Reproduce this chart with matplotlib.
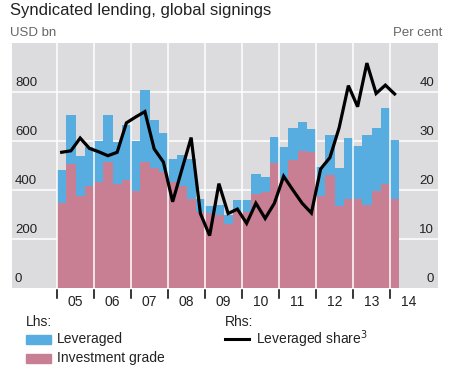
import numpy as np
import matplotlib
matplotlib.use('Agg')
import matplotlib.pyplot as plt
from matplotlib.patches import Rectangle
from matplotlib.lines import Line2D

plt.rcParams['font.family'] = ['Liberation Sans', 'DejaVu Sans']

# quarterly data, 2005 Q1 .. 2014 Q1
years = ['05', '06', '07', '08', '09', '10', '11', '12', '13', '14']
total_usd = [480, 705, 538, 575, 598, 707, 595, 664, 601, 808,
             686, 633, 528, 542, 528, 364, 336, 338, 300, 358,
             358, 464, 453, 618, 575, 654, 677, 650, 494, 623,
             491, 613, 581, 623, 655, 735, 603]
inv_grade = [347, 508, 375, 417, 433, 516, 426, 440, 395, 516,
             491, 473, 432, 416, 364, 310, 306, 300, 261, 315,
             311, 385, 392, 511, 450, 524, 561, 555, 375, 460,
             333, 362, 362, 338, 395, 426, 362]
lev_share = [27.7, 28.0, 30.6, 28.5, 27.8, 27.0, 27.7, 33.7, 34.9, 36.0,
             28.4, 25.7, 17.6, 24.2, 30.7, 15.2, 10.7, 21.3, 15.2, 16.1,
             13.2, 17.3, 14.2, 17.3, 22.8, 20.0, 17.3, 15.3, 24.3, 26.6,
             32.7, 41.3, 37.0, 45.9, 39.7, 41.4, 39.6]
lhs_ticks = [0, 200, 400, 600, 800]
rhs_ticks = [0, 10, 20, 30, 40]

blue = '#58ade0'
pink = '#c97f93'
bg = '#dcdcde'
txt = '#222222'

leveraged = np.array(total_usd) - np.array(inv_grade)
x = np.arange(len(total_usd)) + 0.5

W, H = 460, 370
fig = plt.figure(figsize=(W / 100, H / 100), dpi=100)
ax = fig.add_axes([12 / W, 82 / H, 426 / W, 245 / H])
ax.set_facecolor(bg)
for s in ax.spines.values():
    s.set_visible(False)

ax.bar(x, inv_grade, width=1.0, color=pink, linewidth=0, zorder=2)
ax.bar(x, leveraged, width=1.0, bottom=inv_grade, color=blue, linewidth=0, zorder=2)
ax.set_xlim(-4.87, 41.19)
ax.set_ylim(0, 1000)

for v in lhs_ticks[1:]:
    ax.axhline(v, color='white', lw=1.1, zorder=1)
for k in range(len(years)):
    ax.axvline(4 * k, color='white', lw=1.1, zorder=3)

ax.set_xticks([])
ax.set_yticks([])

# left axis labels inside the plot, sitting above their grid lines
for v in lhs_ticks:
    ax.annotate(str(v), xy=(0.007, v), xycoords=('axes fraction', 'data'),
                xytext=(0, 6.5), textcoords='offset points',
                ha='left', va='center', fontsize=9.5, color=txt)

ax2 = ax.twinx()
ax2.plot(x, lev_share, color='black', lw=2.3, solid_joinstyle='miter', zorder=4)
ax2.set_ylim(0, 50)
ax2.set_yticks([])
for s in ax2.spines.values():
    s.set_visible(False)
for v in rhs_ticks:
    ax2.annotate(str(v), xy=(0.9906, v), xycoords=('axes fraction', 'data'),
                 xytext=(0, 6.5), textcoords='offset points',
                 ha='right', va='center', fontsize=9.5, color=txt)

# year ticks and labels below the axis
xt = ax.get_xaxis_transform()
for k, yr in enumerate(years):
    ax.plot([4 * k, 4 * k], [-0.008, -0.041], color='black', lw=1.1,
            transform=xt, clip_on=False)
    ax.text(4 * k + 2, -0.056, yr, transform=xt, ha='center', va='center',
            fontsize=10, color=txt)

def fy(py):
    return 1 - py / H

fig.text(10 / W, fy(11), 'Syndicated lending, global signings',
         fontsize=12, color=txt, va='center', ha='left')
fig.text(10 / W, fy(33), 'USD bn', fontsize=9.5, color='#666666', va='center')
fig.text(442 / W, fy(33), 'Per cent', fontsize=9.5, color='#666666',
         va='center', ha='right')

# legend
fig.text(26 / W, fy(322), 'Lhs:', fontsize=10, color=txt, va='center')
fig.add_artist(Rectangle((26 / W, fy(344)), 25 / W, 9 / H, color=blue,
                         transform=fig.transFigure))
fig.text(57 / W, fy(339), 'Leveraged', fontsize=10, color=txt, va='center')
fig.add_artist(Rectangle((26 / W, fy(363)), 25 / W, 9 / H, color=pink,
                         transform=fig.transFigure))
fig.text(57 / W, fy(358), 'Investment grade', fontsize=10, color=txt, va='center')

fig.text(225 / W, fy(322), 'Rhs:', fontsize=10, color=txt, va='center')
fig.add_artist(Line2D([225 / W, 249 / W], [fy(339), fy(339)], color='black',
                      lw=2.2, transform=fig.transFigure))
fig.text(256 / W, fy(339), 'Leveraged share$^3$', fontsize=10, color=txt,
         va='center')

fig.savefig('out.png', dpi=100)
